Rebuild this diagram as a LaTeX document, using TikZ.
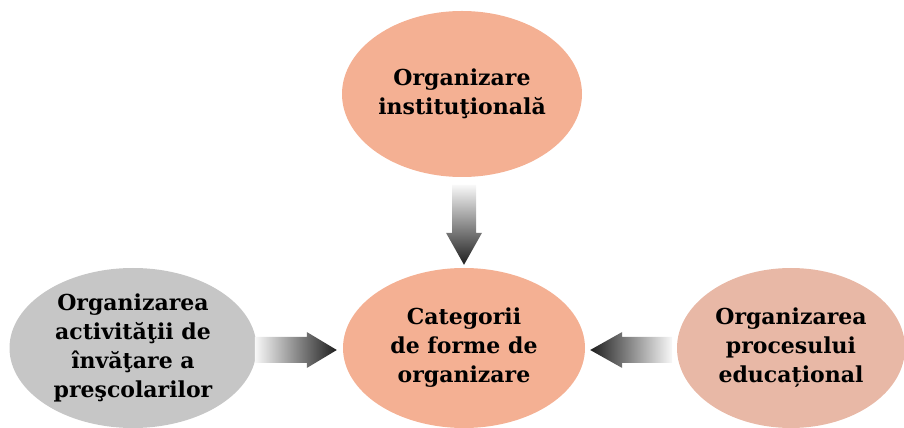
\documentclass[tikz,border=0pt]{standalone}
\usepackage{fontspec}
\setmainfont{DejaVu Serif}
\usetikzlibrary{shapes.geometric,calc}
\definecolor{salmon}{HTML}{F4B093}
\definecolor{rosy}{HTML}{E8B8A6}
\definecolor{greyfill}{HTML}{C6C6C6}
\begin{document}
\begin{tikzpicture}[line join=bevel,
  oval/.style={ellipse,draw=none,inner ysep=0pt,inner xsep=-20bp,align=center,
    font=\bfseries\fontsize{22bp}{29bp}\selectfont}]
\useasboundingbox (0bp,0bp) rectangle (904bp,428bp);
%%
\node (node_0) at (462bp,334bp) [oval,fill=salmon,minimum width=240bp,minimum height=166bp] {Organizare\\instituţională};
  \node (node_1) at (464bp,80bp) [oval,fill=salmon,minimum width=242bp,minimum height=160bp] {Categorii\\de forme de\\organizare};
  \node (node_2) at (133bp,80bp) [oval,fill=greyfill,minimum width=247bp,minimum height=160bp] {Organizarea\\activităţii de\\învăţare a\\preşcolarilor};
  \node (node_3) at (791bp,80bp) [oval,fill=rosy,minimum width=228bp,minimum height=160bp] {Organizarea\\procesului\\educațional};
  \shade [top color=gray!5,bottom color=black!88] ($(node_1.north)+(-12bp,83bp)$) -- ++(24bp,0bp) -- ++(0bp,-48bp) -- ++(6bp,0bp) -- ($(node_1.north)+(0bp,3bp)$) -- ($(node_1.north)+(-18bp,35bp)$) -- ++(6bp,0bp) -- cycle;
  \shade [left color=gray!5,right color=black!88] ($(node_1.west)+(-88bp,11bp)$) -- ++(52bp,0bp) -- ++(0bp,5bp) -- ($(node_1.west)+(-6bp,-2bp)$) -- ($(node_1.west)+(-36bp,-20bp)$) -- ++(0bp,5bp) -- ++(-52bp,0bp) -- cycle;
  \shade [left color=black!88,right color=gray!5] ($(node_1.east)+(87bp,11bp)$) -- ++(-50bp,0bp) -- ++(0bp,5bp) -- ($(node_1.east)+(5bp,-2bp)$) -- ($(node_1.east)+(37bp,-20bp)$) -- ++(0bp,5bp) -- ++(50bp,0bp) -- cycle;
%
\end{tikzpicture}
\end{document}
